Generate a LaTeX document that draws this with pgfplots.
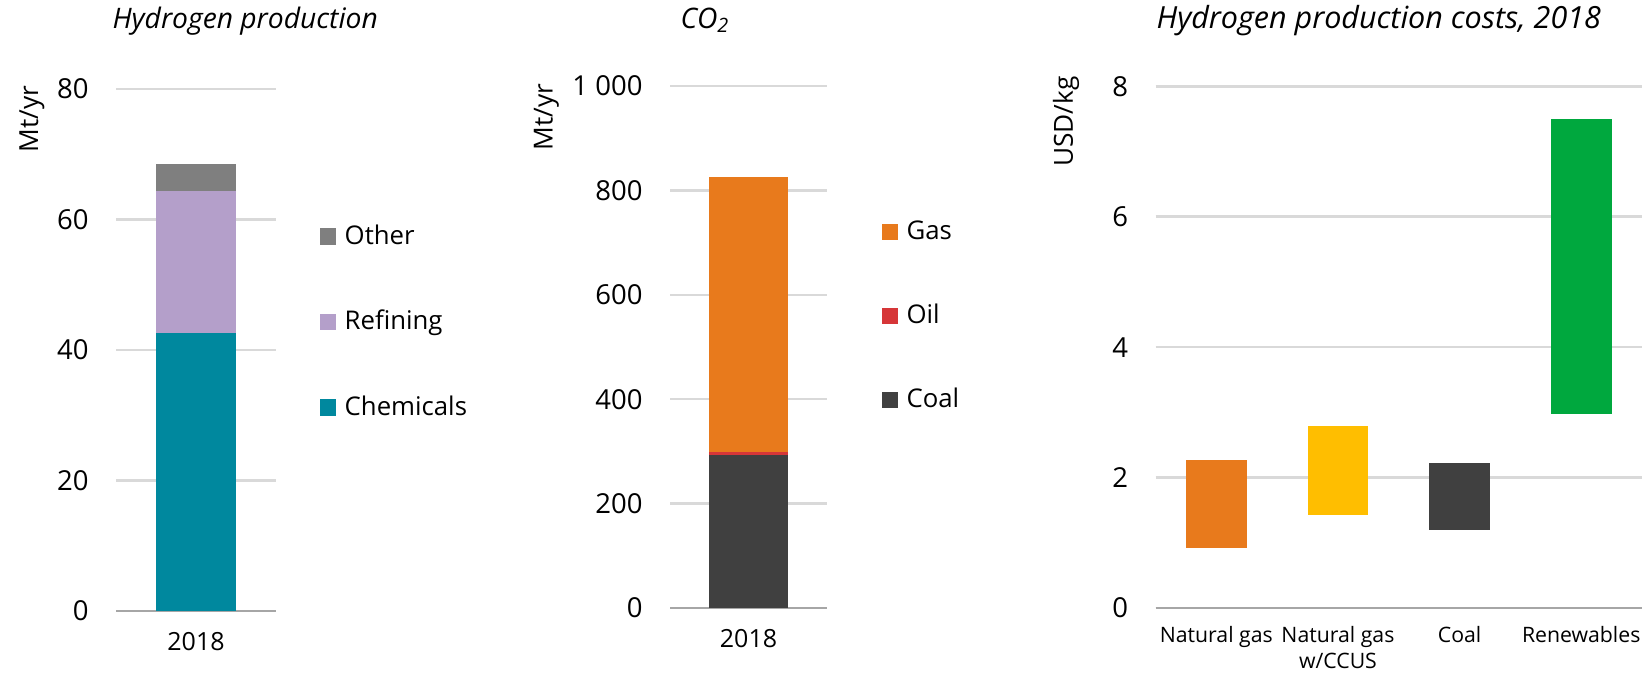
\documentclass[border=0pt]{standalone}
\usepackage{fontspec}
\setmainfont{Open Sans}
\usepackage{pgfplots}
\pgfplotsset{compat=1.18}
\definecolor{chem}{HTML}{00889E}
\definecolor{refin}{HTML}{B49FCA}
\definecolor{other}{HTML}{7F7F7F}
\definecolor{gas}{HTML}{E87A1C}
\definecolor{oil}{HTML}{D63638}
\definecolor{coal}{HTML}{404040}
\definecolor{ccus}{HTML}{FFBE00}
\definecolor{renew}{HTML}{00A83E}
\definecolor{gridgray}{HTML}{D9D9D9}
\definecolor{axisgray}{HTML}{A6A6A6}
\begin{document}
\begin{tikzpicture}
\useasboundingbox (0,0) rectangle (658pt,268.8pt);
\pgfplotsset{
  sq/.style={fill=#1, draw=none,
    legend image code/.code={\fill[#1] (0pt,-2.9pt) rectangle (6.6pt,3.7pt);}},
  base/.style={
    scale only axis, anchor=south west,
    axis line style={draw=none},
    major tick length=0pt,
    tick style={draw=none},
    ymajorgrids, grid style={line width=1pt, draw=gridgray},
    /pgf/number format/assume math mode=true,
    yticklabel style={font=\fontsize{11}{13}\selectfont, inner sep=0pt, xshift=-10.8pt, anchor=east},
    xticklabel style={font=\fontsize{10}{12}\selectfont, inner sep=0pt, yshift=-8.4pt, anchor=north},
    legend cell align=left,
    reverse legend,
    legend style={draw=none, fill=none, inner sep=0pt, anchor=north west,
      font=\fontsize{10.3}{12}\selectfont,
      nodes={inner sep=0pt, text height=8pt, text depth=2.5pt},
      /tikz/every odd column/.append style={column sep=3.4pt}},
    ybar stacked, bar width=0.5,
  },
}
% ---------- Panel 1 ----------
\begin{axis}[base, at={(46.4pt,24.4pt)}, width=64pt, height=208.8pt,
  xmin=-0.5, xmax=0.5, ymin=0, ymax=80, ytick={0,20,40,60,80},
  xtick={0}, xticklabels={2018},
  legend style={at={(1.27,0.7416)}, row sep=23.7pt}]
\addplot[sq=chem] coordinates {(0,42.6)};
\addlegendentry{Chemicals}
\addplot[sq=refin] coordinates {(0,21.8)};
\addlegendentry{Refining}
\addplot[sq=other] coordinates {(0,4.1)};
\addlegendentry{Other}
\draw[line width=1pt, axisgray] (rel axis cs:0,0) -- (rel axis cs:1,0);
\end{axis}
% ---------- Panel 2 ----------
\begin{axis}[base, at={(268pt,25.6pt)}, width=62.8pt, height=208.8pt,
  xmin=-0.5, xmax=0.5, ymin=0, ymax=1000, ytick={0,200,400,600,800,1000},
  yticklabels={0,200,400,600,800,1 000},
  xtick={0}, xticklabels={2018},
  legend style={at={(1.344,0.7445)}, row sep=23.1pt}]
\addplot[sq=coal] coordinates {(0,293)};
\addlegendentry{Coal}
\addplot[sq=oil] coordinates {(0,6)};
\addlegendentry{Oil}
\addplot[sq=gas] coordinates {(0,527)};
\addlegendentry{Gas}
\draw[line width=1pt, axisgray] (rel axis cs:0,0) -- (rel axis cs:1,0);
\end{axis}
% ---------- Panel 3 ----------
\begin{axis}[base, at={(462.2pt,25.6pt)}, width=194.6pt, height=208.7pt,
  xmin=-0.5, xmax=3.5, ymin=0, ymax=8, ytick={0,2,4,6,8},
  xtick={0,1,2,3},
  xticklabels={Natural gas,{Natural gas\\w/CCUS},Coal,Renewables},
  xticklabel style={font=\fontsize{8.5}{10.4}\selectfont, align=center, yshift=1.2pt}]
\addplot[fill=none, draw=none] coordinates {(0,0.92) (1,1.43) (2,1.19) (3,2.98)};
\addplot[fill=gas, draw=none] coordinates {(0,1.35) (1,0) (2,0) (3,0)};
\addplot[fill=ccus, draw=none] coordinates {(0,0) (1,1.36) (2,0) (3,0)};
\addplot[fill=coal, draw=none] coordinates {(0,0) (1,0) (2,1.04) (3,0)};
\addplot[fill=renew, draw=none] coordinates {(0,0) (1,0) (2,0) (3,4.52)};
\draw[line width=1pt, axisgray] (rel axis cs:0,0) -- (rel axis cs:1,0);
\end{axis}
% ---------- Titles and axis labels ----------
\node[anchor=base west, inner sep=0pt, font=\fontsize{11.3}{14}\selectfont\itshape] at (44.8pt,257.6pt) {Hydrogen production};
\node[anchor=base west, inner sep=0pt, font=\fontsize{11.3}{14}\selectfont\itshape] at (272pt,257.6pt) {CO\textsubscript{2}};
\node[anchor=base west, inner sep=0pt, font=\fontsize{12.2}{14}\selectfont\itshape] at (462.4pt,257.6pt) {Hydrogen production costs, 2018};
\node[rotate=90, anchor=east, inner sep=0pt, font=\fontsize{10.5}{12}\selectfont] at (12.8pt,234.8pt) {Mt/yr};
\node[rotate=90, anchor=east, inner sep=0pt, font=\fontsize{10.5}{12}\selectfont] at (218.6pt,235.6pt) {Mt/yr};
\node[rotate=90, anchor=east, inner sep=0pt, font=\fontsize{10.5}{12}\selectfont] at (426.4pt,238.4pt) {USD/kg};
\end{tikzpicture}
\end{document}
